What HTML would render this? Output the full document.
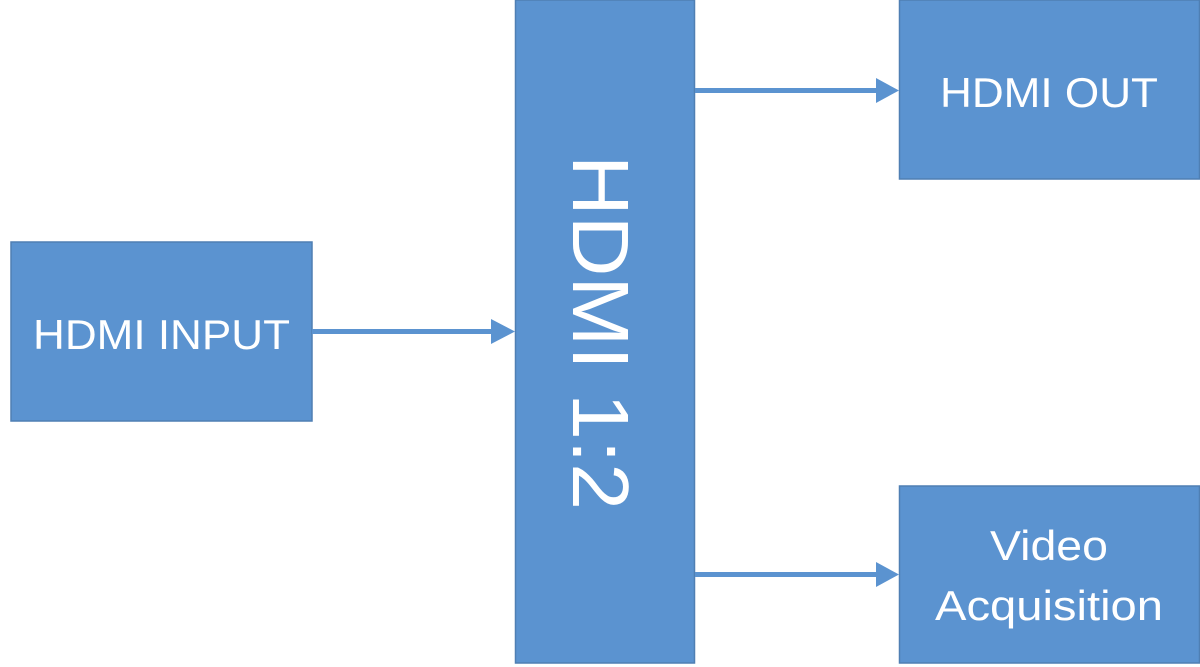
<!DOCTYPE html>
<html><head><style>
html,body{margin:0;padding:0;background:#fff;width:1200px;height:667px;overflow:hidden}
</style></head><body>
<svg width="1200" height="667" xmlns="http://www.w3.org/2000/svg" font-family="'Liberation Sans', sans-serif" fill="#fff">
<g fill="#5b93d0" stroke="#4f7fb3" stroke-width="1.5">
<rect x="11" y="242" width="301" height="179"/>
<rect x="515.5" y="0" width="179" height="663"/>
<rect x="899.5" y="0" width="300" height="179"/>
<rect x="899.5" y="486" width="300" height="177"/>
</g>
<g fill="#5b93d0">
<rect x="312" y="329" width="182" height="5"/><polygon points="491,319 515,331.5 491,344"/>
<rect x="695" y="88" width="183" height="5"/><polygon points="876,78 899,90.5 876,103"/>
<rect x="695" y="572" width="183" height="5"/><polygon points="876,562 899,574.5 876,587"/>
</g>
<g font-size="42" fill="#fff" lengthAdjust="spacingAndGlyphs">
<text x="33" y="349" textLength="257" lengthAdjust="spacingAndGlyphs">HDMI INPUT</text>
<text x="940" y="107" textLength="218" lengthAdjust="spacingAndGlyphs">HDMI OUT</text>
<text x="990" y="560" textLength="118" lengthAdjust="spacingAndGlyphs">Video</text>
<text x="935" y="620" textLength="228" lengthAdjust="spacingAndGlyphs">Acquisition</text>
<text transform="translate(573,155) rotate(90)" font-size="80" textLength="355" lengthAdjust="spacingAndGlyphs">HDMI 1:2</text>
</g>
</svg>
</body></html>
